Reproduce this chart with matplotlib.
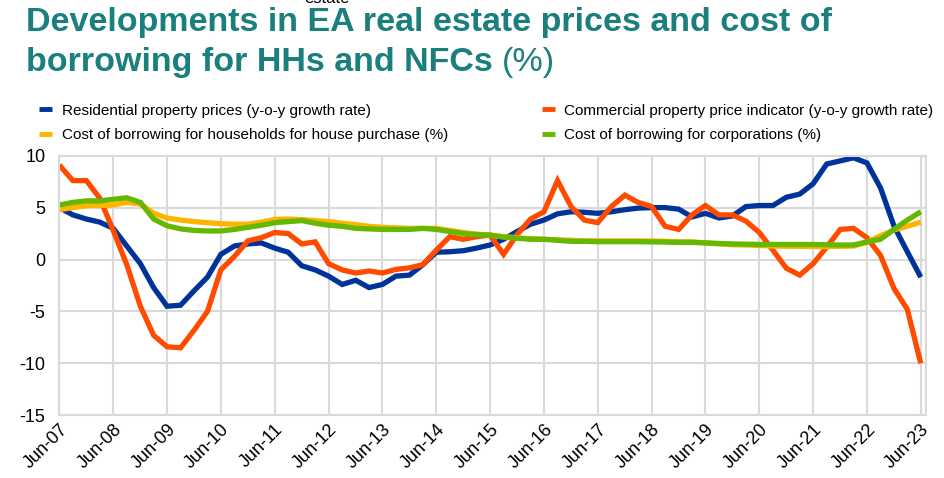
import pandas as pd
import matplotlib
matplotlib.use("Agg")
import matplotlib.pyplot as plt
from matplotlib.lines import Line2D

plt.rcParams['font.family'] = ['Liberation Sans', 'DejaVu Sans']
plt.rcParams['axes.unicode_minus'] = False

# --- data: quarterly, Jun-07 .. Jun-23 ---
dates = pd.date_range('2007-06-30', periods=65, freq='QE')

residential = [5.0, 4.3, 3.9,
               3.6, 3.0, 1.3, -0.4,
               -2.7, -4.5, -4.4, -3.0,
               -1.7, 0.5, 1.3, 1.5,
               1.6, 1.1, 0.7, -0.6,
               -1.0, -1.6, -2.4, -2.0,
               -2.7, -2.4, -1.6, -1.5,
               -0.5, 0.7, 0.75, 0.85,
               1.1, 1.4, 1.95, 2.7,
               3.4, 3.8, 4.4, 4.6,
               4.55, 4.45, 4.6, 4.8,
               4.95, 5.0, 5.0, 4.85,
               4.1, 4.45, 4.0, 4.2,
               5.1, 5.2, 5.2, 6.0,
               6.3, 7.3, 9.2, 9.5,
               9.8, 9.3, 6.9, 3.2,
               0.75, -1.7]

commercial = [9.1, 7.6, 7.6,
              5.9, 2.8, -0.5, -4.5,
              -7.3, -8.4, -8.5, -6.8,
              -5.0, -1.0, 0.3, 1.8,
              2.1, 2.6, 2.5, 1.5,
              1.7, -0.4, -1.0, -1.3,
              -1.1, -1.3, -0.95, -0.8,
              -0.5, 0.9, 2.2, 1.95,
              2.2, 2.35, 0.5, 2.4,
              3.9, 4.6, 7.6, 5.1,
              3.8, 3.55, 5.1, 6.2,
              5.5, 5.1, 3.2, 2.9,
              4.3, 5.2, 4.3, 4.3,
              3.7, 2.6, 0.9, -0.85,
              -1.5, -0.4, 1.2, 2.9,
              3.0, 2.1, 0.4, -2.8,
              -4.8, -10.0]

cost_hh = [4.8, 5.0, 5.2,
           5.2, 5.25, 5.5, 5.35,
           4.45, 4.0, 3.8, 3.65,
           3.55, 3.45, 3.4, 3.4,
           3.6, 3.85, 3.9, 3.85,
           3.75, 3.65, 3.5, 3.35,
           3.2, 3.1, 3.05, 3.0,
           3.0, 3.0, 2.8, 2.6,
           2.45, 2.35, 2.2, 2.1,
           2.0, 1.95, 1.9, 1.85,
           1.8, 1.8, 1.8, 1.8,
           1.8, 1.78, 1.75, 1.72,
           1.7, 1.6, 1.5, 1.42,
           1.4, 1.35, 1.3, 1.28,
           1.27, 1.25, 1.25, 1.27,
           1.3, 1.65, 2.3, 2.85,
           3.2, 3.6]

cost_nfc = [5.25, 5.5, 5.65,
            5.65, 5.8, 5.95, 5.5,
            3.9, 3.25, 2.95, 2.8,
            2.75, 2.75, 2.9, 3.1,
            3.3, 3.55, 3.65, 3.75,
            3.5, 3.3, 3.2, 3.0,
            2.95, 2.9, 2.9, 2.9,
            3.0, 2.9, 2.7, 2.5,
            2.4, 2.35, 2.15, 2.05,
            1.95, 1.95, 1.85, 1.75,
            1.75, 1.72, 1.72, 1.72,
            1.72, 1.7, 1.68, 1.65,
            1.65, 1.6, 1.55, 1.5,
            1.48, 1.45, 1.45, 1.45,
            1.45, 1.45, 1.42, 1.4,
            1.4, 1.7, 1.95, 2.9,
            3.8, 4.6]

labels = ['Residential property prices (y-o-y growth rate)',
          'Commercial property price indicator (y-o-y growth rate)',
          'Cost of borrowing for households for house purchase (%)',
          'Cost of borrowing for corporations (%)']
colors = ['#003399', '#FF4B00', '#FFB400', '#65B800']

teal = '#1A7F7D'
grid_c = '#D9D9D9'

fig = plt.figure(figsize=(9.44, 4.78), dpi=100)
ax = fig.add_axes([0.0628, 0.1312, 0.9182, 0.5431])

series = [residential, commercial, cost_hh, cost_nfc]
for vals, c in zip(series, colors):
    ax.plot(dates, vals, color=c, lw=3.8, solid_joinstyle='miter', solid_capstyle='butt')

ax.set_ylim(-15, 10)
ax.set_yticks(range(-15, 11, 5))
ax.set_xlim(pd.Timestamp('2007-06-30'), pd.Timestamp('2023-08-05'))
ticks = pd.date_range('2007-06-30', '2023-06-30', freq='12ME')
ax.set_xticks(ticks)
ax.set_xticklabels([d.strftime('Jun-%y') for d in ticks], rotation=45,
                   ha='right', rotation_mode='anchor')
ax.grid(True, color=grid_c, lw=1.5)
ax.set_axisbelow(True)
for s in ax.spines.values():
    s.set_color(grid_c)
    s.set_linewidth(1.5)
ax.tick_params(axis='both', length=0, labelsize=13, colors='black')
ax.tick_params(axis='y', pad=10)
ax.tick_params(axis='x', pad=4)

# legend: short thick bars, two columns
handles = [Line2D([], [], color=c, lw=3.5, solid_capstyle='butt') for c in colors]
order = [0, 2, 1, 3]
fig.legend([handles[i] for i in order], [labels[i] for i in order],
           loc='upper left', bbox_to_anchor=(0.0353, 0.796), ncol=2, frameon=False,
           fontsize=11, handlelength=0.85, handletextpad=0.6, columnspacing=6.17,
           labelspacing=0.7, borderaxespad=0)

# title
fig.text(0.0275, 0.935, 'Developments in EA real estate prices and cost of',
         fontsize=24.5, fontweight='bold', color=teal, va='baseline', ha='left')
t2 = fig.text(0.0275, 0.8515, 'borrowing for HHs and NFCs ',
              fontsize=24.5, fontweight='bold', color=teal, va='baseline', ha='left')
r = fig.canvas.get_renderer()
bb = t2.get_window_extent(renderer=r)
fig.text(bb.x1 / fig.bbox.width, 0.8515, '(%)', fontsize=24.5, color=teal,
         va='baseline', ha='left')

# stray label cut at the top edge
fig.text(0.346, 0.9937, 'estate', fontsize=12, ha='center', va='baseline')

fig.savefig('out.png', dpi=100)
